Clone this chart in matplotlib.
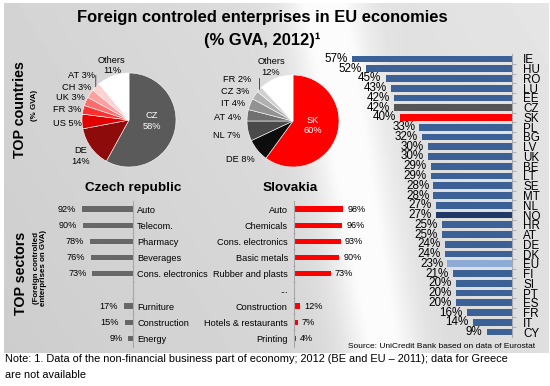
import numpy as np
import matplotlib
matplotlib.use('Agg')
import matplotlib.pyplot as plt
from matplotlib.ticker import FixedLocator

plt.rcParams['font.family'] = ['Liberation Sans', 'DejaVu Sans']

# ---------------- data ----------------
countries = ['IE', 'HU', 'RO', 'LU', 'EE', 'CZ', 'SK', 'PL', 'BG', 'LV', 'UK', 'BE', 'LT', 'SE', 'MT',
             'NL', 'NO', 'HR', 'AT', 'DE', 'DK', 'EU', 'FI', 'SI', 'PT', 'ES', 'FR', 'IT', 'CY']
shares = [57, 52, 45, 43, 42, 42, 40, 33, 32, 30, 30, 29, 29, 28, 28,
          27, 27, 25, 25, 24, 24, 23, 21, 20, 20, 20, 16, 14, 9]

cz_owners = ['CZ', 'DE', 'US', 'FR', 'UK', 'CH', 'AT', 'Others']
cz_owner_shares = [58, 14, 5, 3, 3, 3, 3, 11]
sk_owners = ['SK', 'DE', 'NL', 'AT', 'IT', 'CZ', 'FR', 'Others']
sk_owner_shares = [60, 8, 7, 4, 4, 3, 2, 12]

cz_sectors = ['Auto', 'Telecom.', 'Pharmacy', 'Beverages', 'Cons. electronics', '',
              'Furniture', 'Construction', 'Energy']
cz_sector_values = [92, 90, 78, 76, 73, None, 17, 15, 9]
sk_sectors = ['Auto', 'Chemicals', 'Cons. electronics', 'Basic metals', 'Rubber and plasts', '...',
              'Construction', 'Hotels & restaurants', 'Printing']
sk_sector_values = [98, 96, 93, 90, 73, None, 12, 7, 4]

# ---------------- styles ----------------
BLUE = '#3c6197'
special = {'CZ': '#555555', 'SK': '#ff0000', 'NO': '#1f3864', 'EU': '#8eaad6'}
bar_colors = [special.get(c, BLUE) for c in countries]
cz_pie_colors = ['#5a5a5a', '#8e0b0b', '#e00000', '#ff3030', '#ff6d6d', '#ffa0a0', '#ffd2d2', '#ffffff']
sk_pie_colors = ['#ff0000', '#0d0d0d', '#4a4a4a', '#707070', '#929292', '#b0b0b0', '#d0d0d0', '#ffffff']

W, H = 550, 386
fig = plt.figure(figsize=(5.5, 3.86), dpi=100)


def px_axes(x0, y0, x1, y1, **kw):
    return fig.add_axes([x0 / W, 1 - y1 / H, (x1 - x0) / W, (y1 - y0) / H], **kw)


def ftext(x, y, s, **kw):
    kw.setdefault('ha', 'center')
    kw.setdefault('va', 'center')
    return fig.text(x / W, 1 - y / H, s, **kw)


# ---------------- background panel ----------------
bg = px_axes(0, 0, W, H)
bg.set_axis_off()
bg.set_zorder(-10)
yy, xx = np.mgrid[0:H, 0:W].astype(float)
g = 0.80 + 0.07 * (xx / W) + 0.03 * (1 - yy / H)
xc = 330 + 0.17 * (yy - 40)
g += 0.15 * np.exp(-((xx - xc) / 38.0) ** 2)
g = np.clip(g, 0, 0.985)
panel = (xx >= 4) & (xx <= 548) & (yy >= 3) & (yy <= 352)
img = np.where(panel, g, 1.0)
bg.imshow(img, cmap='gray', vmin=0, vmax=1, extent=(0, W, H, 0), aspect='auto',
          interpolation='bilinear')
bg.set_xlim(0, W)
bg.set_ylim(H, 0)

# ---------------- titles ----------------
ftext(262, 17.5, 'Foreign controled enterprises in EU economies', fontsize=11.9, fontweight='bold')
ftext(262, 40, '(% GVA, 2012)\u00b9', fontsize=11.9, fontweight='bold')

ftext(20, 110, 'TOP countries', fontsize=10.3, fontweight='bold', rotation=90)
ftext(35, 105, '(% GVA)', fontsize=5.7, fontweight='bold', rotation=90)
ftext(21, 273, 'TOP sectors', fontsize=10.3, fontweight='bold', rotation=90)
ftext(40, 268, '(Foreign controlled\nenterprises on GVA)', fontsize=5.7, fontweight='bold',
      rotation=90, linespacing=1.0)

# ---------------- right bar chart ----------------
n = len(countries)
pos = np.arange(n)
axb = px_axes(300, 54.1, 512, 336.9)
axb.patch.set_visible(False)
axb.barh(pos, shares, height=0.7, color=bar_colors)
axb.set_xlim(75.5, 0)
axb.set_ylim(n - 0.5, -0.5)
for s in ['top', 'bottom', 'left']:
    axb.spines[s].set_visible(False)
axb.spines['right'].set_color('#a8a8a8')
axb.spines['right'].set_linewidth(0.8)
axb.set_xticks([])
axb.yaxis.tick_right()
axb.set_yticks(pos, countries)
axb.tick_params(axis='y', which='major', length=0, pad=8, labelsize=8.4)
axb.yaxis.set_minor_locator(FixedLocator(pos[:-1] + 0.5))
axb.tick_params(axis='y', which='minor', length=3, width=0.6, color='#a8a8a8', direction='out')
for i, v in enumerate(shares):
    axb.annotate(f'{v}%', (v, i), xytext=(-3, 0), textcoords='offset points',
                 ha='right', va='center', fontsize=8.4)

# ---------------- pies ----------------
def draw_pie(box, values, colors, leader_idx):
    ax = px_axes(*box)
    wedges, _ = ax.pie(values, colors=colors, startangle=90, counterclock=False,
                       wedgeprops=dict(edgecolor='white', linewidth=0.4))
    ax.set_xlim(-1, 1)
    ax.set_ylim(-1, 1)
    w = wedges[leader_idx]
    ang = np.deg2rad((w.theta1 + w.theta2) / 2)
    x0, y0 = np.cos(ang), np.sin(ang)
    ax.annotate('', xy=(x0, y0), xytext=(x0, y0 + 0.24),
                arrowprops=dict(arrowstyle='-', color='#333333', lw=0.6,
                                shrinkA=0, shrinkB=0), annotation_clip=False)
    return ax


draw_pie((82, 73, 176, 167), cz_owner_shares, cz_pie_colors, cz_owners.index('AT'))
draw_pie((247, 75, 339, 167), sk_owner_shares, sk_pie_colors, sk_owners.index('FR'))

pf = 6.7
cz_lab = dict(zip(cz_owners, cz_owner_shares))
ftext(152, 121, f"CZ\n{cz_lab['CZ']}%", fontsize=pf, color='white', linespacing=1.15)
ftext(81, 156, f"DE\n{cz_lab['DE']}%", fontsize=pf, linespacing=1.15)
ftext(67, 123, f"US {cz_lab['US']}%", fontsize=pf)
ftext(67, 109, f"FR {cz_lab['FR']}%", fontsize=pf)
ftext(70, 98, f"UK {cz_lab['UK']}%", fontsize=pf)
ftext(77, 87, f"CH {cz_lab['CH']}%", fontsize=pf)
ftext(82, 75, f"AT {cz_lab['AT']}%", fontsize=pf)
ftext(112, 65.5, f"Others\n{cz_lab['Others']}%", fontsize=pf, linespacing=1.15)

sk_lab = dict(zip(sk_owners, sk_owner_shares))
ftext(313, 125.5, f"SK\n{sk_lab['SK']}%", fontsize=pf, color='white', linespacing=1.15)
ftext(240, 160, f"DE {sk_lab['DE']}%", fontsize=pf)
ftext(227, 135, f"NL {sk_lab['NL']}%", fontsize=pf)
ftext(227, 117, f"AT {sk_lab['AT']}%", fontsize=pf)
ftext(233, 103, f"IT {sk_lab['IT']}%", fontsize=pf)
ftext(235, 91, f"CZ {sk_lab['CZ']}%", fontsize=pf)
ftext(237, 79, f"FR {sk_lab['FR']}%", fontsize=pf)
ftext(271, 67, f"Others\n{sk_lab['Others']}%", fontsize=pf, linespacing=1.15)

# ---------------- sector bars ----------------
sf = 6.6


def sector_axes(box, names, values, color, side):
    ax = px_axes(*box)
    ax.patch.set_visible(False)
    m = len(names)
    p = np.arange(m)
    vals = [np.nan if v is None else v for v in values]
    ax.barh(p, vals, height=0.34, color=color)
    ax.set_ylim(m - 0.5, -0.5)
    ax.set_xticks([])
    for s in ['top', 'bottom', 'left', 'right']:
        ax.spines[s].set_visible(False)
    ax.spines[side].set_visible(True)
    ax.spines[side].set_color('#a8a8a8')
    ax.spines[side].set_linewidth(0.8)
    if side == 'right':
        ax.yaxis.tick_right()
    ax.set_yticks(p, names)
    ax.yaxis.set_minor_locator(FixedLocator(p[:-1] + 0.5))
    ax.tick_params(axis='y', which='minor', length=2, width=0.6, color='#a8a8a8', direction='inout')
    for i, v in enumerate(values):
        if v is None:
            continue
        off = -4 if side == 'right' else 3
        ax.annotate(f'{v}%', (v, i), xytext=(off, 0), textcoords='offset points',
                    ha='right' if side == 'right' else 'left', va='center', fontsize=sf)
    return ax


axc = sector_axes((40, 201, 133, 346.5), cz_sectors, cz_sector_values, '#676767', 'right')
axc.set_xlim(93 / 0.555, 0)
axc.tick_params(axis='y', which='major', length=0, pad=3, labelsize=sf)

axs = sector_axes((294, 201, 380, 346.5), sk_sectors, sk_sector_values, '#ff0000', 'left')
axs.set_xlim(0, 86 / 0.5)
axs.tick_params(axis='y', which='major', length=0, pad=4.5, labelsize=sf)

ftext(133, 188, 'Czech republic', fontsize=9.7, fontweight='bold')
ftext(290, 188, 'Slovakia', fontsize=9.7, fontweight='bold')

# ---------------- footer ----------------
ftext(535, 347, 'Source: UniCredit Bank based on data of Eurostat', fontsize=6.0, ha='right')
ftext(5, 359.5, 'Note: 1. Data of the non-financial business part of economy; 2012 (BE and EU \u2013 2011); '
      'data for Greece', fontsize=7.95, ha='left')
ftext(5, 375, 'are not available', fontsize=7.95, ha='left')

fig.savefig('out.png', dpi=100)
